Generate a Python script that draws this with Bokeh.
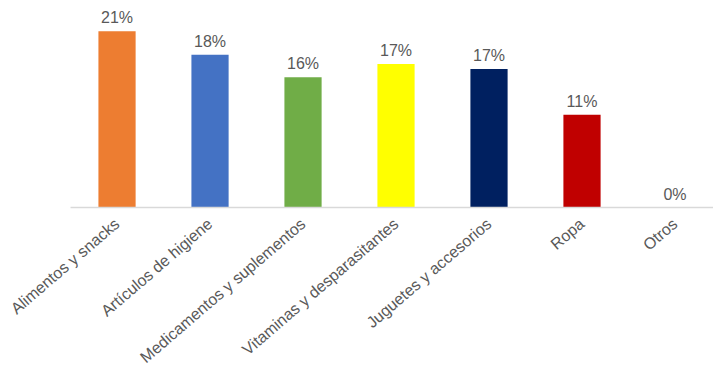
from bokeh.plotting import figure
from bokeh.models import Range1d, ColumnDataSource
from bokeh.core.properties import value
from bokeh.embed import file_html
from bokeh.resources import INLINE

categories = ["Alimentos y snacks", "Artículos de higiene", "Medicamentos y suplementos",
              "Vitaminas y desparasitantes", "Juguetes y accesorios", "Ropa", "Otros"]
values = [21.1, 18.3, 15.6, 17.2, 16.6, 11.1, 0.0]
colors = ["#ED7D31", "#4472C4", "#70AD47", "#FFFF00", "#002060", "#C00000", "#A5A5A5"]
labels = [f"{round(v)}%" for v in values]

n = len(categories)
xs = [i + 0.5 for i in range(n)]
src = ColumnDataSource(dict(x=xs, top=values, color=colors, label=labels,
                            cat=categories, zero=[0.0] * n))

p = figure(width=713, height=365, output_backend="svg", toolbar_location=None,
           x_range=Range1d(-0.753, 6.914), y_range=Range1d(-18.92, 24.79),
           min_border_left=0, min_border_right=0, min_border_top=0, min_border_bottom=0)
p.outline_line_color = None
p.background_fill_color = "white"
p.border_fill_color = "white"
p.xgrid.visible = False
p.ygrid.visible = False
p.xaxis.visible = False
p.yaxis.visible = False

p.vbar(x="x", top="top", width=0.40, bottom=0, color="color", line_color=None, source=src)
p.segment(x0=0, y0=0, x1=n, y1=0, line_color="#D9D9D9", line_width=1.5)

p.text(x="x", y="top", text="label", source=src, text_align="center", text_baseline="bottom",
       y_offset=-5, text_font=value("Liberation Sans"), text_font_size="16px", text_color="#595959")

p.text(x="x", y="zero", text="cat", source=src, angle=0.71, text_align="right",
       text_baseline="middle", x_offset=0, y_offset=14,
       text_font=value("Liberation Sans"), text_font_size="16px", text_color="#595959")

open("out.html", "w").write(file_html(p, INLINE))
